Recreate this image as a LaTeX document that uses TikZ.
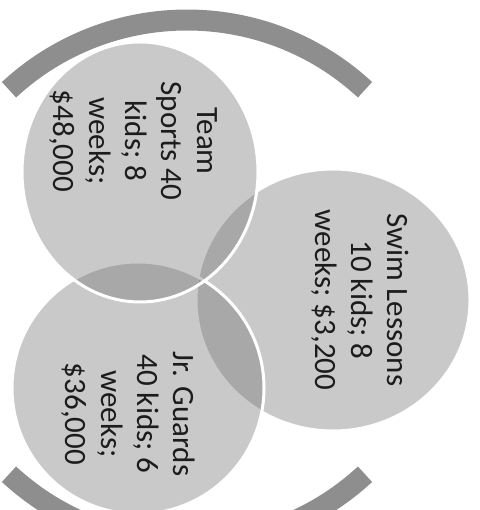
\documentclass[tikz,border=0pt]{standalone}
\usepackage{fontspec}
\setmainfont{Carlito}
\definecolor{circgray}{RGB}{116,116,116}
\definecolor{bandgray}{RGB}{142,142,142}
\definecolor{textc}{RGB}{28,28,28}
\begin{document}
\begin{tikzpicture}[x=1pt,y=1pt,
  venn/.style={fill=circgray, fill opacity=0.39, draw=white, line width=3pt},
  band/.style={draw=bandgray, line width=21pt, line cap=butt},
  lbl/.style={rotate=-90, align=center, font=\fontsize{31}{36}\selectfont, text=textc, inner sep=0pt}]
\useasboundingbox (0,0) rectangle (479,510);
\clip (0,0) rectangle (479,510);
\coordinate (O) at (187,228);
\coordinate (cS) at (333,210);
\coordinate (cJ) at (138,122);
\coordinate (cT) at (140,338);
\draw[band] ([shift={(47.2:262pt)}]O) arc[start angle=47.2,end angle=132.8,radius=262pt];
\draw[band] ([shift={(227.2:262pt)}]O) arc[start angle=227.2,end angle=312.8,radius=262pt];
\path[venn] (cS) ellipse[x radius=137pt,y radius=131pt];
\path[venn] (cJ) circle[radius=126pt];
\path[venn] (cT) ellipse[x radius=118pt,y radius=130pt];
\node[lbl] (team) at (133,369) {Team\\Sports 40\\kids; 8\\weeks;\\\$48,000};
\node[lbl] (swim) at (360,210) {Swim Lessons\\10 kids; 8\\weeks; \$3,200};
\node[lbl] (jr) at (128,96) {Jr. Guards\\40 kids; 6\\weeks;\\\$36,000};
\end{tikzpicture}
\end{document}
